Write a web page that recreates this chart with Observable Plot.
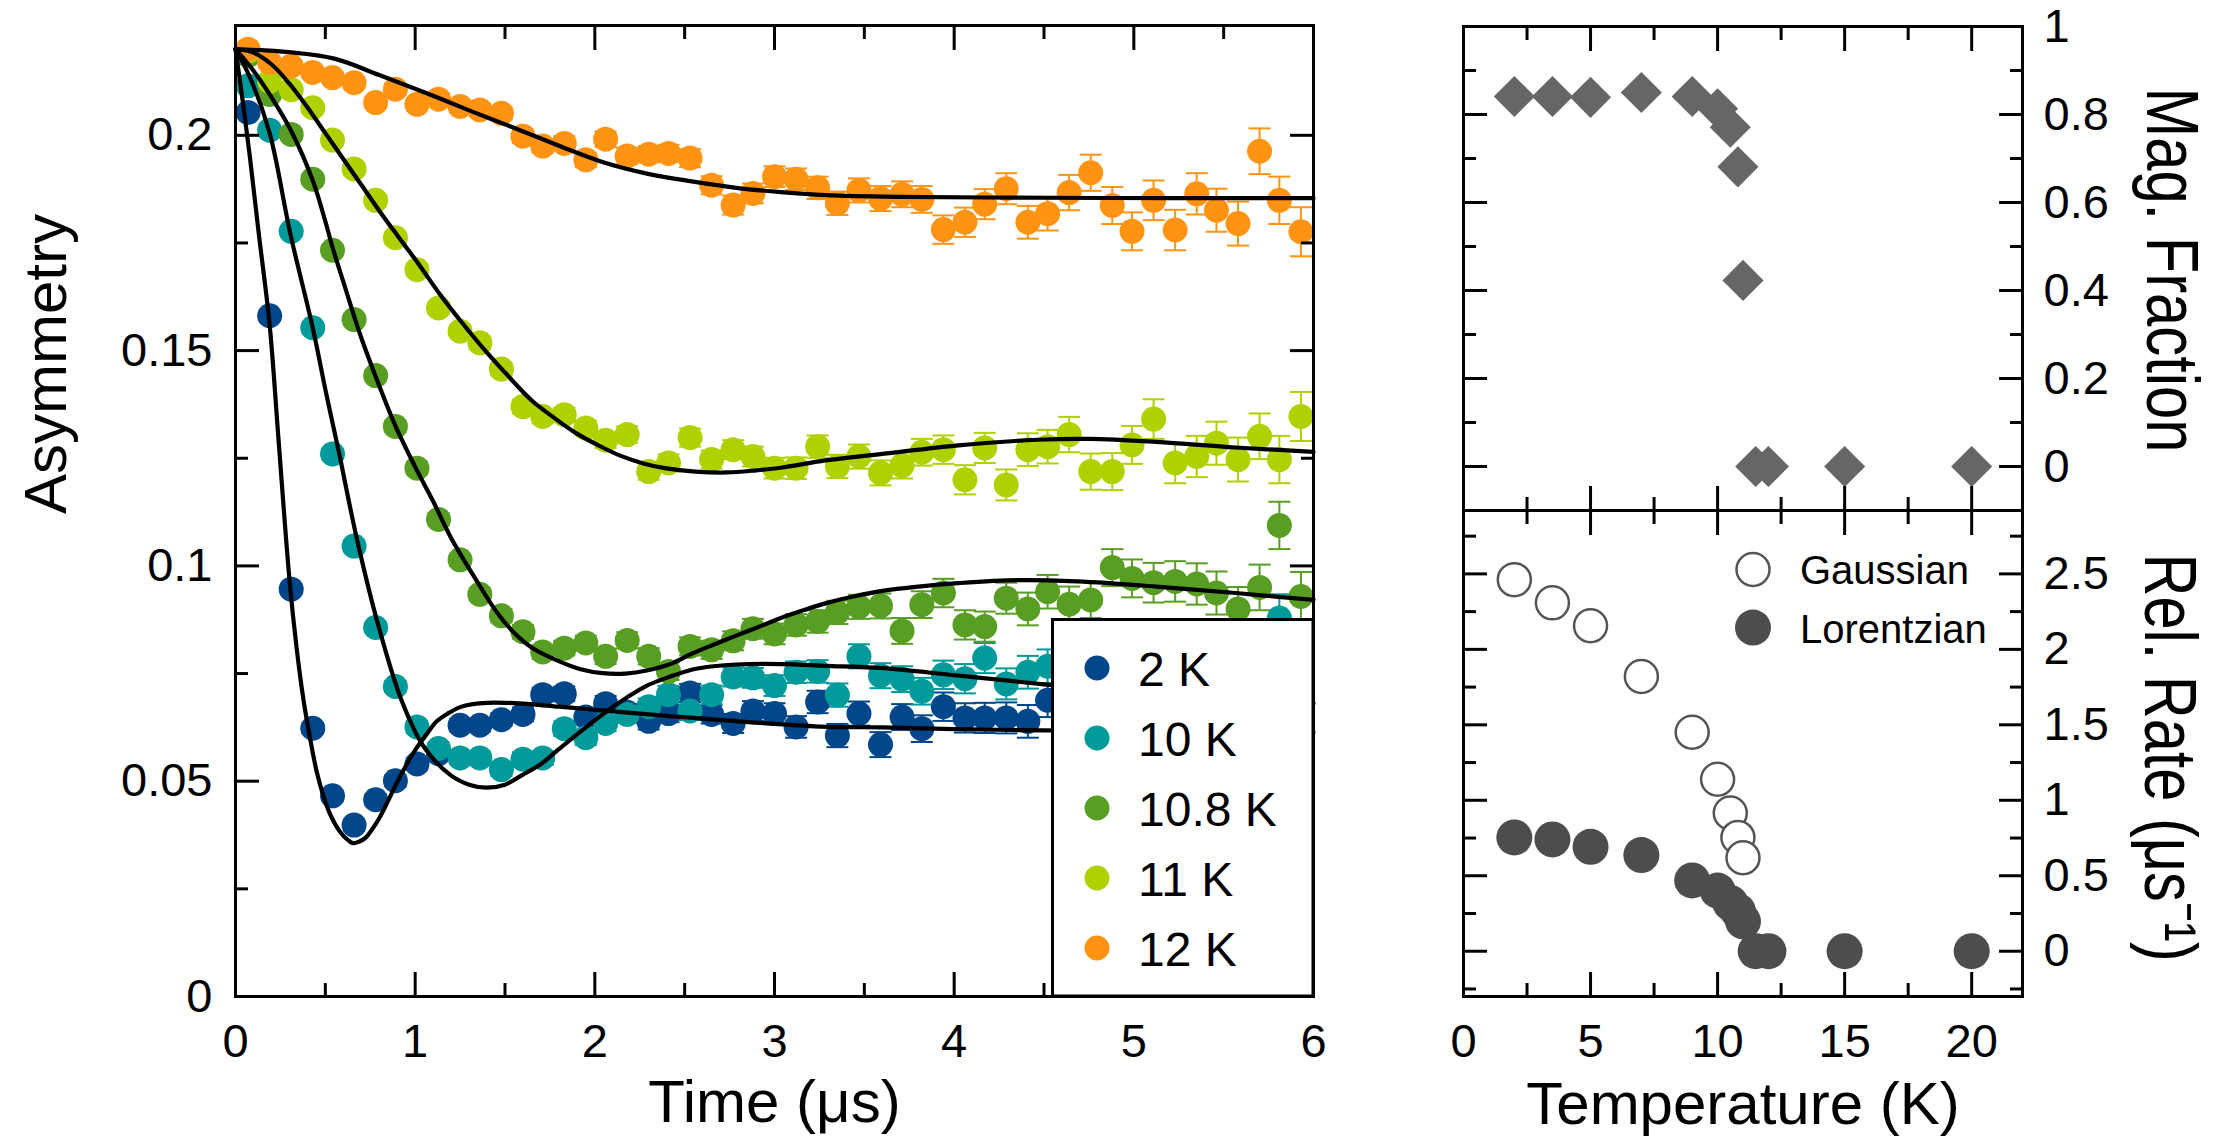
<!DOCTYPE html>
<html>
<head>
<meta charset="utf-8">
<script src="https://cdn.jsdelivr.net/npm/d3@7"></script>
<script src="https://cdn.jsdelivr.net/npm/@observablehq/plot@0.6"></script>
<style>
  html, body { margin: 0; padding: 0; background: #fff; }
  #wrap { position: relative; width: 2221px; height: 1141px; overflow: hidden;
          font-family: "Liberation Sans", Arial, Helvetica, sans-serif; }
  #wrap svg { position: absolute; top: 0; max-width: none; }
</style>
</head>
<body>
<div id="wrap"></div>
<script>
// ---------------- DATA: left panel (muSR asymmetry vs time) ----------------
const seriesLabels = ["2 K", "10 K", "10.8 K", "11 K", "12 K"];
const seriesColors = ["#00468b", "#009a9a", "#579e22", "#b0d100", "#ff9414"];

const times = [0.07,0.19,0.31,0.43,0.54,0.66,0.78,0.89,1.01,1.13,
  1.25,1.36,1.48,1.60,1.71,1.83,1.95,2.06,2.18,2.30,
  2.41,2.53,2.65,2.77,2.88,3.00,3.12,3.24,3.35,3.47,
  3.59,3.71,3.82,3.94,4.06,4.17,4.29,4.41,4.52,4.64,
  4.76,4.88,4.99,5.11,5.23,5.35,5.46,5.58,5.70,5.81,5.93];

const errBar = [0.0011,0.0011,0.0012,0.0012,0.0012,0.0013,0.0013,0.0013,0.0014,0.0014,
  0.0014,0.0015,0.0015,0.0016,0.0016,0.0017,0.0017,0.0018,0.0019,0.0019,
  0.0020,0.0021,0.0021,0.0022,0.0023,0.0024,0.0025,0.0026,0.0027,0.0028,
  0.0029,0.0030,0.0031,0.0033,0.0034,0.0035,0.0036,0.0038,0.0039,0.0041,
  0.0042,0.0043,0.0044,0.0046,0.0047,0.0048,0.0050,0.0051,0.0053,0.0055,0.0057];

const asym2K = [0.2053,0.1581,0.0946,0.0623,0.0466,0.0398,0.0457,0.0501,0.0540,0.0564,
  0.0630,0.0630,0.0643,0.0655,0.0701,0.0703,0.0649,0.0680,0.0660,0.0639,
  0.0657,0.0705,0.0655,0.0634,0.0663,0.0657,0.0626,0.0684,0.0606,0.0657,
  0.0585,0.0649,0.0622,0.0673,0.0647,0.0647,0.0647,0.0639,0.0688,0.0628,
  0.0641,0.0619,0.0636,0.0622,0.0645,0.0630,0.0615,0.0640,0.0625,0.0633,0.0618];
const asym10K = [0.2115,0.2012,0.1777,0.1553,0.1260,0.1046,0.0857,0.0720,0.0626,0.0576,
  0.0554,0.0554,0.0527,0.0551,0.0554,0.0622,0.0601,0.0634,0.0655,0.0673,
  0.0701,0.0663,0.0701,0.0742,0.0740,0.0722,0.0753,0.0755,0.0700,0.0790,
  0.0745,0.0737,0.0709,0.0747,0.0738,0.0786,0.0726,0.0753,0.0767,0.0745,
  0.0752,0.0730,0.0758,0.0722,0.0745,0.0733,0.0750,0.0728,0.0755,0.0879,0.0738];
const asym108K = [0.2185,0.2095,0.2002,0.1898,0.1733,0.1572,0.1442,0.1324,0.1227,0.1108,
  0.1014,0.0934,0.0884,0.0847,0.0800,0.0809,0.0821,0.0790,0.0827,0.0790,
  0.0755,0.0813,0.0805,0.0826,0.0854,0.0842,0.0863,0.0871,0.0892,0.0905,
  0.0907,0.0849,0.0910,0.0937,0.0863,0.0859,0.0925,0.0900,0.0940,0.0911,
  0.0921,0.0996,0.0971,0.0961,0.0964,0.0958,0.0937,0.0900,0.0950,0.1094,0.0929];
const asym11K = [0.2195,0.2125,0.2106,0.2064,0.1989,0.1922,0.1849,0.1762,0.1688,0.1599,
  0.1545,0.1518,0.1457,0.1370,0.1347,0.1351,0.1320,0.1292,0.1305,0.1219,
  0.1239,0.1298,0.1247,0.1270,0.1254,0.1227,0.1227,0.1277,0.1231,0.1254,
  0.1216,0.1233,0.1264,0.1270,0.1200,0.1274,0.1188,0.1270,0.1277,0.1305,
  0.1219,0.1219,0.1281,0.1341,0.1239,0.1254,0.1285,0.1247,0.1301,0.1247,0.1347];
const asym12K = [0.2200,0.2169,0.2161,0.2146,0.2134,0.2122,0.2076,0.2107,0.2072,0.2084,
  0.2067,0.2059,0.2051,0.1998,0.1975,0.1981,0.1943,0.1991,0.1952,0.1956,
  0.1958,0.1947,0.1884,0.1838,0.1865,0.1904,0.1898,0.1878,0.1842,0.1872,
  0.1853,0.1863,0.1851,0.1781,0.1798,0.1840,0.1876,0.1798,0.1818,0.1867,
  0.1913,0.1837,0.1777,0.1849,0.1780,0.1864,0.1826,0.1795,0.1963,0.1849,0.1776];

// fit curves
const fitT2K = [0,0.04,0.08,0.13,0.19,0.24,0.30,0.34,0.378,0.415,0.452,0.49,0.527,0.565,0.601,0.63,0.656,0.69,0.725,0.76,0.80,0.85,0.90,0.95,1.00,1.06,1.12,1.185,1.25,1.32,1.40,1.50,1.60,1.80,2.0,2.3,2.55,2.8,3.0,3.3,3.6,4.0,4.5,5.0,5.5,6.0];
const fitA2K = [0.2200,0.2080,0.1950,0.1770,0.1560,0.1290,0.0970,0.0810,0.0690,0.0600,0.0522,0.0465,0.0423,0.0393,0.0373,0.0362,0.0356,0.0360,0.0369,0.0388,0.0414,0.0455,0.0498,0.0537,0.0572,0.0607,0.0639,0.0658,0.0672,0.0679,0.0682,0.0682,0.0680,0.0673,0.0666,0.0655,0.0647,0.0639,0.0633,0.0626,0.0625,0.0621,0.0618,0.0616,0.0614,0.0613];
const fitT10K = [0,0.08,0.19,0.306,0.43,0.50,0.575,0.676,0.80,0.924,1.048,1.197,1.30,1.396,1.50,1.595,1.70,1.793,1.92,2.042,2.17,2.29,2.42,2.539,2.66,2.787,3.035,3.284,3.585,4.024,4.5,5.0,5.5,6.0];
const fitA10K = [0.2200,0.2135,0.2005,0.1770,0.1553,0.1410,0.1265,0.1062,0.0854,0.0688,0.0580,0.0514,0.0492,0.0485,0.0492,0.0514,0.0540,0.0572,0.0615,0.0655,0.0692,0.0722,0.0743,0.0759,0.0767,0.0771,0.0772,0.0768,0.0763,0.0745,0.0725,0.0707,0.0692,0.0680];
const fitT108K = [0,0.1,0.19,0.31,0.43,0.50,0.54,0.60,0.66,0.70,0.78,0.89,1.0,1.10,1.20,1.346,1.45,1.545,1.65,1.793,1.92,2.042,2.17,2.29,2.42,2.539,2.66,2.787,2.91,3.035,3.16,3.284,3.45,3.6,3.8,4.024,4.354,4.685,5.125,5.566,6.0];
const fitA108K = [0.2200,0.2150,0.2095,0.2010,0.1895,0.1800,0.1740,0.1660,0.1580,0.1530,0.1440,0.1325,0.1230,0.1150,0.1065,0.0963,0.0895,0.0847,0.0810,0.0780,0.0760,0.0751,0.0750,0.0757,0.0772,0.0796,0.0817,0.0838,0.0858,0.0879,0.0897,0.0913,0.0930,0.0942,0.0952,0.0960,0.0967,0.0964,0.0952,0.0937,0.0921];
const fitT11K = [0,0.1,0.2,0.3,0.4,0.5,0.6,0.7,0.8,0.9,1.0,1.148,1.27,1.396,1.52,1.644,1.77,1.893,2.02,2.141,2.27,2.39,2.56,2.737,2.9,3.035,3.284,3.6,4.024,4.464,4.751,5.125,5.566,6.0];
const fitA11K = [0.2200,0.2192,0.2165,0.2120,0.2065,0.2005,0.1945,0.1885,0.1825,0.1768,0.1712,0.1625,0.1560,0.1497,0.1440,0.1386,0.1345,0.1309,0.1280,0.1256,0.1238,0.1227,0.1219,0.1217,0.1222,0.1228,0.1245,0.1260,0.1280,0.1293,0.1295,0.1288,0.1275,0.1265];
const fitT12K = [0,0.3,0.55,0.8,1.05,1.3,1.545,1.793,2.042,2.29,2.539,2.787,3.035,3.284,3.7,4.5,5.2,6.0];
const fitA12K = [0.2200,0.2193,0.2178,0.2140,0.2100,0.2058,0.2018,0.1977,0.1938,0.1911,0.1893,0.1878,0.1868,0.1861,0.1857,0.1855,0.1854,0.1854];

// left panel ticks
const timeTicksMajor = [1, 2, 3, 4, 5];
const timeTicksMinor = [0.5, 1.5, 2.5, 3.5, 4.5, 5.5];
const timeTickLabels = [0, 1, 2, 3, 4, 5, 6];
const asymTicksMajor = [0.05, 0.1, 0.15, 0.2];
const asymTicksMinor = [0.025, 0.075, 0.125, 0.175];
const asymTickLabels = [0, 0.05, 0.1, 0.15, 0.2];

// ---------------- DATA: right panels (vs temperature) ----------------
const magT = [2, 3.5, 5, 7, 9, 10, 10.5, 10.8, 11, 11.5, 12, 15, 20];
const magFrac = [0.841, 0.841, 0.839, 0.850, 0.841, 0.813, 0.771, 0.681, 0.423, 0, 0, 0, 0];
const gaussT = [2, 3.5, 5, 7, 9, 10, 10.5, 10.8, 11];
const gaussRate = [2.462, 2.308, 2.156, 1.820, 1.451, 1.139, 0.916, 0.754, 0.619];
const lorT = [2, 3.5, 5, 7, 9, 10, 10.5, 10.8, 11, 11.5, 12, 15, 20];
const lorRate = [0.754, 0.741, 0.692, 0.637, 0.469, 0.402, 0.320, 0.266, 0.198, 0, 0, 0, 0];

const tempTicksMajor = [5, 10, 15, 20];
const tempTicksMinor = [2.5, 7.5, 12.5, 17.5];
const tempTickLabels = [0, 5, 10, 15, 20];
const fracTicksMajor = [0, 0.2, 0.4, 0.6, 0.8];
const fracTicksMinor = [0.1, 0.3, 0.5, 0.7, 0.9];
const fracTickLabels = [0, 0.2, 0.4, 0.6, 0.8, 1];
const rateTicksMajor = [0, 0.5, 1, 1.5, 2, 2.5];
const rateTicksMinor = [-0.25, 0.25, 0.75, 1.25, 1.75, 2.25, 2.75];
const rateTickLabels = [0, 0.5, 1, 1.5, 2, 2.5];

// ---------------- BUILD ----------------
const FONT = '"Liberation Sans", Arial, Helvetica, sans-serif';
const wrap = document.getElementById("wrap");
const baseStyle = {fontFamily: FONT, fontSize: "47px", color: "black", background: "transparent", overflow: "visible"};

const asymBySeries = [asym2K, asym10K, asym108K, asym11K, asym12K];
const fitTs = [fitT2K, fitT10K, fitT108K, fitT11K, fitT12K];
const fitAs = [fitA2K, fitA10K, fitA108K, fitA11K, fitA12K];

const pts = seriesLabels.flatMap((k, s) => times.map((t, i) => ({k, t, a: asymBySeries[s][i], e: errBar[i]})));
const fits = seriesLabels.flatMap((k, s) => fitTs[s].map((t, i) => ({k, t, a: fitAs[s][i]})));

const capSymbol = {draw(ctx) { ctx.moveTo(-11, 0); ctx.lineTo(11, 0); }};

const MAJ = 24, MIN = 13;
function tickAxis(scale, anchor, values, len) {
  const o = {anchor, ticks: values, tickSize: len, fill: "none", stroke: "black", strokeWidth: 3, label: null};
  if (anchor === "left") o.dx = len;
  if (anchor === "right") o.dx = -len;
  if (anchor === "bottom") o.dy = -len;
  if (anchor === "top") o.dy = len;
  return scale === "x" ? Plot.axisX(o) : Plot.axisY(o);
}
function allTicks(xMaj, xMin, yMaj, yMin) {
  return [
    tickAxis("x", "bottom", xMaj, MAJ), tickAxis("x", "bottom", xMin, MIN),
    tickAxis("x", "top", xMaj, MAJ), tickAxis("x", "top", xMin, MIN),
    tickAxis("y", "left", yMaj, MAJ), tickAxis("y", "left", yMin, MIN),
    tickAxis("y", "right", yMaj, MAJ), tickAxis("y", "right", yMin, MIN)
  ];
}
const fmt = d => String(d);

// Left panel
const left = Plot.plot({
  width: 1380, height: 1141,
  marginLeft: 235, marginRight: 67, marginTop: 25, marginBottom: 145,
  x: {domain: [0, 6]},
  y: {domain: [0, 0.2255]},
  color: {domain: seriesLabels, range: seriesColors},
  style: baseStyle,
  marks: [
    Plot.ruleX(pts, {x: "t", y1: d => d.a - d.e, y2: d => d.a + d.e, stroke: "k", strokeWidth: 2}),
    Plot.dot(pts, {x: "t", y: d => d.a + d.e, symbol: capSymbol, stroke: "k", fill: "none", strokeWidth: 2}),
    Plot.dot(pts, {x: "t", y: d => d.a - d.e, symbol: capSymbol, stroke: "k", fill: "none", strokeWidth: 2}),
    Plot.dot(pts, {x: "t", y: "a", fill: "k", r: 12.5}),
    Plot.line(fits, {x: "t", y: "a", z: "k", stroke: "black", strokeWidth: 4.2, curve: "catmull-rom"}),
    ...allTicks(timeTicksMajor, timeTicksMinor, asymTicksMajor, asymTicksMinor),
    Plot.frame({stroke: "black", strokeWidth: 3}),
    Plot.axisX({anchor: "bottom", ticks: timeTickLabels, tickSize: 0, tickPadding: 27, stroke: "none", fontSize: 47, tickFormat: fmt, label: null}),
    Plot.axisY({anchor: "left", ticks: asymTickLabels, tickSize: 0, tickPadding: 23, stroke: "none", fontSize: 47, tickFormat: fmt, label: null}),
    Plot.text(["Asymmetry"], {text: d => d, frameAnchor: "left", rotate: -90, dx: -170, dy: 3, lineAnchor: "bottom", fontSize: 60, fill: "black"}),
    Plot.text(["Time (μs)"], {text: d => d, frameAnchor: "bottom", dy: 125, lineAnchor: "bottom", fontSize: 60, fill: "black"})
  ]
});
left.style.left = "0px";
wrap.appendChild(left);

// Right top panel
const rtop = Plot.plot({
  width: 821, height: 1141,
  marginLeft: 63, marginRight: 199, marginTop: 26, marginBottom: 631,
  x: {domain: [0, 22]},
  y: {domain: [-0.1, 1]},
  style: baseStyle,
  marks: [
    Plot.dot(magT, {x: magT, y: magFrac, symbol: "diamond2", r: 18.5, fill: "#666666"}),
    ...allTicks(tempTicksMajor, tempTicksMinor, fracTicksMajor, fracTicksMinor),
    Plot.frame({stroke: "black", strokeWidth: 3}),
    Plot.axisY({anchor: "right", ticks: fracTickLabels, tickSize: 0, tickPadding: 21, stroke: "none", fontSize: 47, tickFormat: fmt, label: null}),
    // starts at top, reads downwards; condensed below
    Plot.text(["Mag. Fraction"], {text: d => d, frameAnchor: "right", rotate: 90, textAnchor: "start", dx: 124, dy: -181, lineAnchor: "bottom", fontSize: 74, fill: "black"})
  ]
});
rtop.style.left = "1400px";
wrap.appendChild(rtop);

// Right bottom panel
const rbot = Plot.plot({
  width: 821, height: 1141,
  marginLeft: 63, marginRight: 199, marginTop: 510, marginBottom: 145,
  x: {domain: [0, 22]},
  y: {domain: [-0.3, 2.92]},
  style: baseStyle,
  marks: [
    Plot.dot(gaussT, {x: gaussT, y: gaussRate, r: 16.5, fill: "white", stroke: "#555555", strokeWidth: 2.5}),
    Plot.dot(lorT, {x: lorT, y: lorRate, r: 18, fill: "#4d4d4d"}),
    ...allTicks(tempTicksMajor, tempTicksMinor, rateTicksMajor, rateTicksMinor),
    Plot.frame({stroke: "black", strokeWidth: 3}),
    Plot.axisX({anchor: "bottom", ticks: tempTickLabels, tickSize: 0, tickPadding: 27, stroke: "none", fontSize: 47, tickFormat: fmt, label: null}),
    Plot.axisY({anchor: "right", ticks: rateTickLabels, tickSize: 0, tickPadding: 21, stroke: "none", fontSize: 47, tickFormat: fmt, label: null}),
    Plot.text(["Rel. Rate (μs⁻¹)"], {text: d => d, frameAnchor: "right", rotate: 90, textAnchor: "start", dx: 122, dy: -200, lineAnchor: "bottom", fontSize: 74, fill: "black"}),
    Plot.text(["Temperature (K)"], {text: d => d, frameAnchor: "bottom", dy: 127, lineAnchor: "bottom", fontSize: 60, fill: "black"})
  ]
});
rbot.style.left = "1400px";
wrap.appendChild(rbot);

// condensed rotated titles on the right: scale along the reading direction
function squeeze(svg, str, len) {
  svg.querySelectorAll("text").forEach(t => {
    if (t.textContent === str) {
      const natural = t.getComputedTextLength();
      const k = natural > 0 ? len / natural : 0.81;
      const tr = t.getAttribute("transform") || "";
      t.setAttribute("transform", `${tr} scale(${k.toFixed(4)},1)`);
    }
  });
}
squeeze(rtop, "Mag. Fraction", 365);
squeeze(rbot, "Rel. Rate (μs⁻¹)", 408);

// ---------------- LEGENDS ----------------
const lg = d3.select(wrap).append("svg")
  .attr("width", 2221).attr("height", 1141)
  .style("left", "0px").style("pointer-events", "none")
  .attr("font-family", FONT);

lg.append("rect").attr("x", 1052.5).attr("y", 619.5).attr("width", 260.5).attr("height", 376.5)
  .attr("fill", "white").attr("stroke", "black").attr("stroke-width", 3);
seriesLabels.forEach((k, i) => {
  lg.append("circle").attr("cx", 1097).attr("cy", 668 + 70 * i).attr("r", 12.5).attr("fill", seriesColors[i]);
  lg.append("text").attr("x", 1138).attr("y", 686 + 70 * i).attr("font-size", 48).attr("fill", "black").text(k);
});

lg.append("circle").attr("cx", 1753).attr("cy", 569.5).attr("r", 16.5)
  .attr("fill", "white").attr("stroke", "#555555").attr("stroke-width", 2.5);
lg.append("text").attr("x", 1800).attr("y", 584).attr("font-size", 40).attr("fill", "black").text("Gaussian");
lg.append("circle").attr("cx", 1753).attr("cy", 627.6).attr("r", 18).attr("fill", "#4d4d4d");
lg.append("text").attr("x", 1800).attr("y", 643).attr("font-size", 40).attr("fill", "black").text("Lorentzian");
</script>
</body>
</html>
